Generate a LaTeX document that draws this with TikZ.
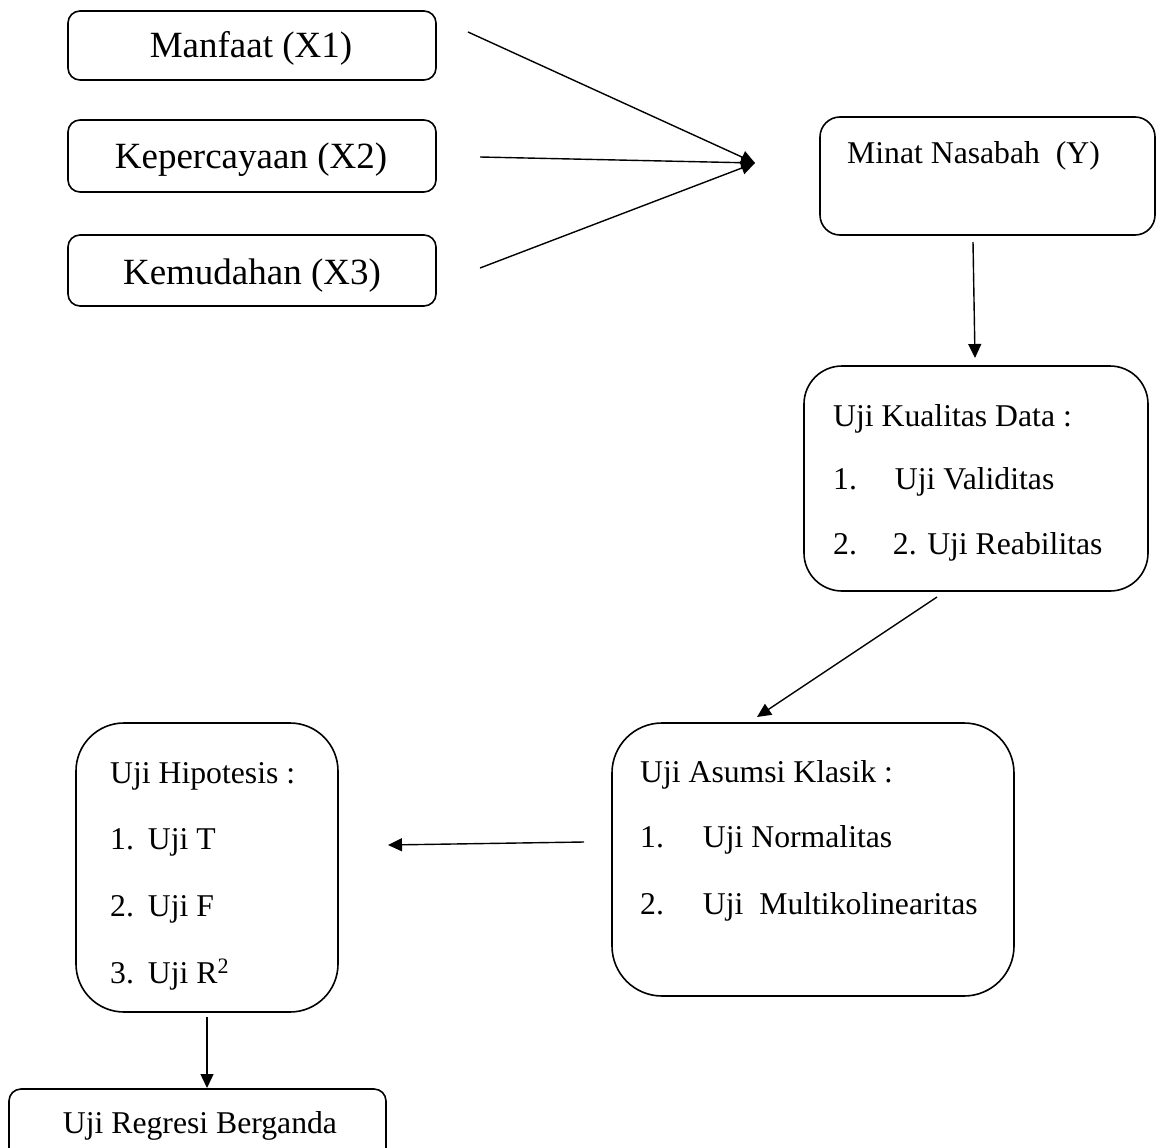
\documentclass[tikz,border=0pt]{standalone}
\usepackage{fontspec}
\setmainfont{Liberation Serif}
\usetikzlibrary{arrows.meta}
\begin{document}
\begin{tikzpicture}[x=1pt,y=-1pt,
  box/.style={draw,line width=1.6pt,inner sep=0pt},
  conn/.style={line width=1.4pt,-{Triangle[length=14pt,width=13pt]}},
  big/.style={font=\fontsize{37}{44}\selectfont,inner sep=0pt,anchor=base},
  small/.style={font=\fontsize{31.7}{38}\selectfont,inner sep=0pt,anchor=base west},
  smallc/.style={font=\fontsize{31.7}{38}\selectfont,inner sep=0pt,anchor=base}]
\useasboundingbox (0,0) rectangle (1162,1148);
\clip (0,0) rectangle (1162,1148);

% boxes
\node[box,rounded corners=12pt,minimum width=368pt,minimum height=69pt] (b1) at (252,45.5) {};
\node[box,rounded corners=12pt,minimum width=368pt,minimum height=72pt] (b2) at (252,156) {};
\node[box,rounded corners=12pt,minimum width=368pt,minimum height=71pt] (b3) at (252,270.5) {};
\node[box,rounded corners=20pt,minimum width=335pt,minimum height=118pt] (minat) at (987.5,176) {};
\node[box,rounded corners=38pt,minimum width=344pt,minimum height=225pt] (kual) at (976,478.5) {};
\node[box,rounded corners=50pt,minimum width=402pt,minimum height=273pt] (asum) at (813,859.5) {};
\node[box,rounded corners=48pt,minimum width=262pt,minimum height=289pt] (hipo) at (207,867.5) {};
\node[box,rounded corners=12pt,minimum width=377pt,minimum height=81pt] (regr) at (197.5,1129.5) {};

% texts
\node[big] (t1) at (251,58) {Manfaat (X1)};
\node[big] (t2) at (251,168) {Kepercayaan (X2)};
\node[big] (t3) at (252,284) {Kemudahan (X3)};
\node[small] (tm) at (847,163) {Minat Nasabah\ \ (Y)};
\node[small] (tk1) at (833,426) {Uji Kualitas Data :};
\node[small] (tk2) at (833,489) {1.\hspace{38pt}Uji Validitas};
\node[small] (tk3) at (833,554) {2.\hspace{36pt}2. Uji Reabilitas};
\node[small] (ta1) at (640,782) {Uji Asumsi Klasik :};
\node[small] (ta2) at (640,847) {1.\hspace{39pt}Uji Normalitas};
\node[small] (ta3) at (640,914) {2.\hspace{39pt}Uji\ \ Multikolinearitas};
\node[small] (th1) at (110,783) {Uji Hipotesis :};
\node[small] (th2) at (110,849) {1.\hspace{14pt}Uji T};
\node[small] (th3) at (110,916) {2.\hspace{14pt}Uji F};
\node[small] (th4) at (110,983) {3.\hspace{14pt}Uji R\textsuperscript{\fontsize{22}{24}\selectfont 2}};
\node[smallc] (tr) at (200,1133) {Uji Regresi Berganda};

% connector end points
\coordinate (s1) at (468,32);
\coordinate (s2) at (480,157);
\coordinate (s3) at (480,268);
\coordinate (hub) at (755,163);
\coordinate (s4) at (973,242);
\coordinate (e4) at (975,358);
\coordinate (s5) at (937,597);
\coordinate (e5) at (757,717);
\coordinate (s6) at (584,842);
\coordinate (e6) at (388,845);
\coordinate (s7) at (207,1017);
\coordinate (e7) at (207,1088);

\draw[conn] (s1) -- (hub);
\draw[conn] (s2) -- (hub);
\draw[conn] (s3) -- (hub);
\draw[conn] (s4) -- (e4);
\draw[conn] (s5) -- (e5);
\draw[conn] (s6) -- (e6);
\draw[conn] (s7) -- (e7);
\end{tikzpicture}
\end{document}
